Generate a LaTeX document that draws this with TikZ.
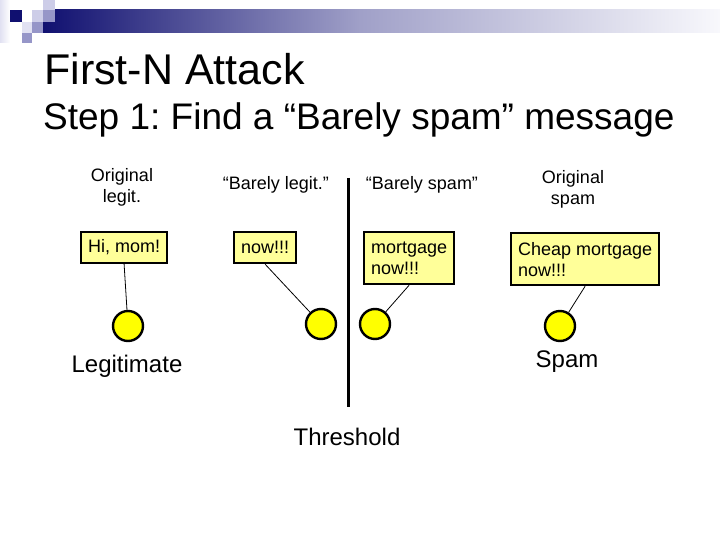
\documentclass[tikz,border=0pt]{standalone}
\usepackage{fontspec}
\setmainfont{Liberation Sans}
\usepackage{xcolor}
\usetikzlibrary{positioning}
\frenchspacing

\definecolor{slidenavy}{RGB}{16,16,112}
\definecolor{barmid}{RGB}{160,160,200}
\definecolor{barend}{RGB}{248,248,252}
\definecolor{lavlight}{RGB}{205,205,232}
\definecolor{lavmid}{RGB}{150,150,200}
\definecolor{lavpale}{RGB}{225,225,242}
\definecolor{boxyellow}{RGB}{255,255,153}
\definecolor{dotyellow}{RGB}{255,255,0}

\begin{document}
\begin{tikzpicture}[x=1pt, y=-1pt,
  msg/.style={draw, line width=2.2pt, fill=boxyellow, anchor=north west, align=left,
    inner xsep=7pt, inner ysep=0pt, font=\fontsize{18}{21}\selectfont},
  dot/.style={circle, draw, line width=2.4pt, fill=dotyellow, minimum size=30pt, inner sep=0pt},
  head/.style={font=\fontsize{18}{21}\selectfont, align=center, inner sep=0pt},
  tag/.style={font=\fontsize{24}{28}\selectfont, anchor=base, inner sep=0pt},
  link/.style={line width=0.8pt}]

  \useasboundingbox (0,0) rectangle (720,540);

  % Header bar and squares
  \shade[left color=slidenavy, right color=barmid] (43,10) rectangle (360,33);
  \shade[left color=barmid, right color=barend] (360,10) rectangle (720,33);
  \shade[left color=lavpale, right color=white] (0,0) rectangle (10,43);
  \fill[slidenavy] (10,10) rectangle (22,22);
  \fill[lavlight] (32,10) rectangle (43,22);
  \fill[lavlight] (43,0) rectangle (55,10);
  \fill[lavmid] (43,10) rectangle (55,22);
  \fill[lavpale] (22,22) rectangle (32,33);
  \fill[lavmid] (32,22) rectangle (43,33);
  \fill[lavmid] (22,33) rectangle (32,43);

  % Titles
  \node[anchor=base west, inner sep=0pt, font=\fontsize{43}{50}\selectfont] (title) at (44,85) {First-N Attack};
  \node[anchor=base west, inner sep=0pt, font=\fontsize{37}{44}\selectfont] (step) at (43,130) {Step 1: Find a “Barely spam” message};

  % Column heads
  \node[head, anchor=north] (hlegit) at (122,168) {Original\\legit.};
  \node[head, anchor=base] (hblegit) at (276,190) {“Barely legit.”};
  \node[head, anchor=base] (hbspam) at (422,190) {“Barely spam”};
  \node[head, anchor=north] (hspam) at (573,170) {Original\\spam};

  % Messages
  \node[msg, minimum height=31pt] (hi) at (80,231) {Hi, mom!};
  \node[msg, minimum height=31pt] (now) at (233,231) {now!!!};
  \node[msg, minimum height=52pt] (mort) at (363,231) {mortgage\\now!!!};
  \node[msg, minimum height=52pt] (cheap) at (510,232) {Cheap mortgage\\now!!!};

  % Scores
  \node[dot] (legit) at (128,326) {};
  \node[dot] (blegit) at (321,324) {};
  \node[dot] (bspam) at (375,324) {};
  \node[dot] (spam) at (560,326) {};

  % Draw links
  \draw[link] (hi.south) -- (legit);
  \draw[link] (now.south) -- (blegit);
  \draw[link] (mort.south) -- (bspam);
  \draw[link] (cheap.south) -- (spam);

  % Threshold
  \coordinate (thtop) at (348,178);
  \coordinate (thbot) at (348,407);
  \draw[line width=3pt] (thtop) -- (thbot);

  % Labels
  \node[tag] (legitlbl) at (127,372) {Legitimate};
  \node[tag] (spamlbl) at (567,367) {Spam};
  \node[tag] (thlbl) at (347,445) {Threshold};
\end{tikzpicture}
\end{document}
